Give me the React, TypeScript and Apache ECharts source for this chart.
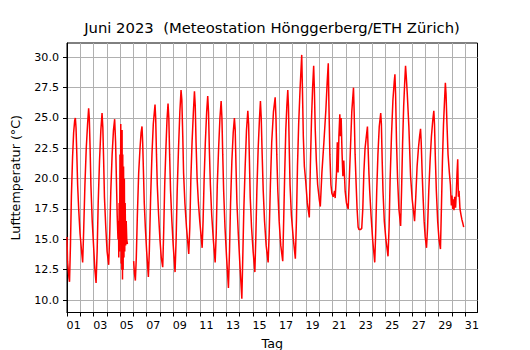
import React, { useEffect, useRef } from "react";
import * as echarts from "echarts";

const TITLE = "Juni 2023  (Meteostation Hönggerberg/ETH Zürich)";
const X_NAME = "Tag";
const Y_NAME = "Lufttemperatur (°C)";

// y tick values (°C)
const yTicks = [10, 12.5, 15, 17.5, 20, 22.5, 25, 27.5, 30];
// day boundaries (days since 1 June 00:00)
const dayTicks = [0, 1, 2, 3, 4, 5, 6, 7, 8, 9, 10, 11, 12, 13, 14, 15, 16, 17, 18, 19, 20, 21, 22, 23, 24, 25, 26, 27, 28, 29, 30];
// label positions (noon of odd days) and their texts
const dayLabelPos = [0.5, 2.5, 4.5, 6.5, 8.5, 10.5, 12.5, 14.5, 16.5, 18.5, 20.5, 22.5, 24.5, 26.5, 28.5, 30.5];
const dayLabelText = ["01", "03", "05", "07", "09", "11", "13", "15", "17", "19", "21", "23", "25", "27", "29", "31"];

// [days since 1 June 00:00, temperature °C]
const days01to05: [number, number | null][] = [
  [0, 15.2], [0.04, 13.2], [0.1, 12.4], [0.15, 11.8], [0.19, 11.5], [0.26, 14.5], [0.33, 18.5], [0.42, 21.8],
  [0.5, 23.8], [0.58, 24.8], [0.63, 25.0], [0.68, 24.2], [0.74, 22.0], [0.8, 19.5], [0.88, 17.5], [0.98, 15.5],
  [1.1, 14.0], [1.18, 13.1], [1.25, 15.5], [1.35, 19.5], [1.45, 22.5], [1.55, 24.5], [1.63, 25.8], [1.68, 25.0],
  [1.74, 22.5], [1.8, 19.5], [1.9, 16.5], [2.0, 14.5], [2.1, 12.5], [2.19, 11.4], [2.27, 14.0], [2.35, 18.0],
  [2.45, 21.5], [2.55, 24.0], [2.64, 25.4], [2.7, 24.2], [2.76, 21.5], [2.82, 18.5], [2.92, 16.0], [3.02, 14.0],
  [3.14, 12.9], [3.22, 15.5], [3.3, 19.0], [3.4, 22.0], [3.5, 24.0], [3.59, 24.9], [3.66, 23.0], [3.72, 20.0],
  [3.78, 17.0], [3.84, 15.0], [3.88, 16.5], [3.9, 13.5], [3.93, 18.0], [3.96, 14.0], [3.99, 22.0], [4.02, 15.0],
  [4.05, 24.5], [4.08, 13.0], [4.1, 23.5], [4.13, 12.5], [4.15, 24.0], [4.18, 11.7], [4.2, 22.0], [4.23, 12.5],
  [4.26, 21.0], [4.29, 13.5], [4.32, 20.0], [4.35, 14.0], [4.38, 18.0], [4.42, 14.5], [4.46, 16.5], [4.5, 15.0],
  [4.55, 14.6], [4.8, null], [5.02, 13.2], [5.08, 12.2], [5.15, 11.6], [5.22, 13.5], [5.3, 17.0], [5.4, 20.5],
  [5.5, 22.5], [5.58, 23.8], [5.65, 24.3], [5.7, 23.0], [5.76, 20.5], [5.82, 18.0], [5.9, 16.0], [6.0, 14.0],
];

const days07to12: [number, number | null][] = [
  [6.13, 11.9], [6.2, 14.0], [6.3, 18.5], [6.4, 22.0], [6.5, 24.5], [6.63, 26.1], [6.68, 25.0], [6.74, 22.0],
  [6.8, 19.5], [6.9, 17.0], [7.0, 15.0], [7.1, 13.5], [7.21, 12.7], [7.28, 15.5], [7.36, 19.5], [7.45, 22.5],
  [7.53, 24.8], [7.61, 26.2], [7.67, 25.0], [7.73, 22.0], [7.8, 19.0], [7.9, 16.5], [8.0, 14.5], [8.14, 12.3],
  [8.22, 15.0], [8.3, 19.0], [8.4, 22.5], [8.5, 25.5], [8.59, 27.3], [8.65, 26.5], [8.72, 23.5], [8.78, 20.5],
  [8.88, 18.0], [9.0, 16.0], [9.17, 13.8], [9.25, 16.0], [9.33, 20.0], [9.42, 23.0], [9.52, 25.5], [9.6, 27.2],
  [9.66, 26.0], [9.72, 23.0], [9.8, 20.0], [9.9, 18.0], [10.0, 16.5], [10.18, 14.3], [10.25, 16.5], [10.33, 20.0],
  [10.42, 23.0], [10.52, 25.5], [10.6, 26.8], [10.66, 25.5], [10.72, 22.5], [10.8, 19.5], [10.9, 17.0], [11.02, 15.0],
  [11.16, 13.1], [11.24, 15.5], [11.32, 19.5], [11.42, 22.5], [11.52, 25.0], [11.61, 26.4], [11.67, 25.0], [11.73, 22.0],
  [11.8, 19.0], [11.9, 16.0], [12.02, 13.5],
];

const days13to18: [number, number | null][] = [
  [12.16, 11.0], [12.24, 14.0], [12.32, 18.0], [12.42, 21.5], [12.52, 23.8], [12.61, 25.0], [12.67, 24.0], [12.73, 21.0],
  [12.8, 18.0], [12.9, 15.5], [13.02, 13.0], [13.17, 10.1], [13.24, 13.5], [13.32, 17.5], [13.42, 21.0], [13.52, 24.0],
  [13.62, 25.6], [13.68, 24.5], [13.74, 21.5], [13.8, 18.5], [13.9, 16.0], [14.02, 14.0], [14.15, 12.3], [14.22, 15.0],
  [14.3, 19.0], [14.4, 22.5], [14.5, 25.0], [14.57, 26.4], [14.63, 25.0], [14.7, 22.0], [14.78, 19.0], [14.88, 16.5],
  [15.0, 14.5], [15.15, 13.1], [15.23, 15.5], [15.32, 19.5], [15.42, 23.0], [15.55, 25.5], [15.68, 26.7], [15.74, 25.0],
  [15.8, 22.0], [15.88, 19.0], [15.98, 16.5], [16.1, 14.5], [16.25, 13.2], [16.32, 16.5], [16.4, 20.5], [16.48, 24.0],
  [16.56, 26.0], [16.63, 27.3], [16.68, 26.0], [16.74, 22.5], [16.8, 19.5], [16.9, 17.0], [17.05, 15.0], [17.2, 13.4],
  [17.28, 16.5], [17.36, 21.0], [17.45, 24.5], [17.56, 27.5], [17.68, 30.2], [17.74, 27.0], [17.8, 23.5], [17.88, 21.0],
  [17.98, 19.8], [18.1, 18.0], [18.25, 16.8], [18.33, 21.0], [18.42, 25.0], [18.5, 27.5], [18.58, 29.3], [18.63, 27.5],
  [18.7, 24.0], [18.78, 21.5], [18.88, 19.5], [19.0, 18.3],
];

const days20to25: [number, number | null][] = [
  [19.08, 17.7], [19.2, 20.5], [19.35, 23.0], [19.5, 25.7], [19.6, 28.0], [19.68, 29.5], [19.73, 26.0], [19.8, 22.0],
  [19.88, 19.5], [19.95, 18.8], [20.05, 18.5], [20.15, 19.0], [20.2, 18.4], [20.3, 20.5], [20.36, 23.0], [20.42, 20.5],
  [20.48, 23.5], [20.55, 25.3], [20.6, 23.5], [20.65, 25.0], [20.72, 22.0], [20.78, 20.2], [20.85, 21.5], [20.95, 19.0],
  [21.05, 18.0], [21.18, 17.5], [21.25, 19.5], [21.35, 22.5], [21.45, 25.5], [21.58, 27.5], [21.63, 25.5], [21.7, 22.0],
  [21.78, 19.5], [21.85, 17.5], [21.93, 16.0], [22.0, 15.8], [22.1, 15.8], [22.2, 15.9], [22.28, 17.5], [22.36, 20.5],
  [22.45, 22.5], [22.55, 23.5], [22.63, 24.3], [22.68, 22.5], [22.74, 20.5], [22.8, 19.0], [22.9, 17.0], [23.02, 15.0],
  [23.18, 13.1], [23.25, 15.5], [23.33, 19.0], [23.42, 22.0], [23.52, 24.3], [23.63, 25.4], [23.68, 24.5], [23.74, 21.5],
  [23.8, 19.0], [23.9, 16.5], [24.02, 15.0], [24.18, 13.6], [24.26, 16.0], [24.34, 20.0], [24.44, 23.5], [24.55, 26.5],
  [24.65, 28.0], [24.7, 28.6], [24.75, 27.0], [24.82, 23.0], [24.9, 20.0], [25.0, 17.5],
];

const days26to30: [number, number | null][] = [
  [25.13, 16.1], [25.2, 19.0], [25.28, 23.0], [25.36, 26.0], [25.44, 28.0], [25.5, 29.3], [25.55, 28.5], [25.63, 27.0],
  [25.75, 24.3], [25.88, 20.2], [26.0, 18.3], [26.18, 16.5], [26.27, 18.5], [26.37, 21.0], [26.47, 22.5], [26.56, 23.5],
  [26.63, 24.1], [26.68, 23.0], [26.75, 20.5], [26.82, 18.5], [26.9, 16.5], [26.98, 15.2], [27.08, 14.3], [27.16, 16.0],
  [27.25, 19.0], [27.35, 21.5], [27.45, 23.5], [27.55, 24.8], [27.63, 25.6], [27.68, 24.5], [27.75, 21.5], [27.82, 19.0],
  [27.92, 16.5], [28.02, 15.0], [28.13, 14.2], [28.2, 17.5], [28.28, 21.5], [28.36, 24.5], [28.44, 26.5], [28.5, 27.9],
  [28.55, 27.0], [28.62, 24.5], [28.7, 22.0], [28.8, 20.5], [28.88, 19.5], [28.95, 17.8], [29.0, 18.6], [29.05, 17.5],
  [29.1, 18.3], [29.15, 17.4], [29.2, 18.5], [29.27, 17.6], [29.33, 19.0], [29.38, 20.5], [29.43, 21.6], [29.48, 18.5],
  [29.53, 19.0], [29.6, 17.5], [29.68, 17.0], [29.75, 16.6], [29.82, 16.3], [29.88, 16.0],
];

const FONT = "DejaVu Sans";

export default function App() {
  const ref = useRef<HTMLDivElement>(null);
  useEffect(() => {
    if (!ref.current) return;
    const chart = echarts.init(ref.current, undefined, { renderer: "svg" });
    const data = [...days01to05, ...days07to12, ...days13to18, ...days20to25, ...days26to30];
    chart.setOption({
      animation: false,
      backgroundColor: "#ffffff",
      textStyle: { fontFamily: FONT },
      title: {
        text: TITLE,
        left: 272,
        top: 20,
        textAlign: "center",
        padding: 0,
        textStyle: { fontFamily: FONT, fontSize: 14.8, fontWeight: "normal", color: "#000" },
      },
      grid: {
        left: 67,
        right: 52.5,
        top: 43,
        bottom: 37.5,
        show: true,
        borderColor: "#000",
        borderWidth: 1,
        backgroundColor: "transparent",
        containLabel: false,
        outerBoundsMode: "none",
      },
      xAxis: {
        type: "value",
        min: 0,
        max: 30.92,
        name: X_NAME,
        nameLocation: "middle",
        nameGap: 24,
        nameTextStyle: { fontFamily: FONT, fontSize: 12.7, color: "#000" },
        axisLine: { show: true, onZero: false, lineStyle: { color: "#000", width: 1 } },
        axisTick: { show: true, inside: false, length: 4, customValues: dayTicks, lineStyle: { color: "#000", width: 1 } },
        axisLabel: {
          show: true,
          margin: 7,
          customValues: dayLabelPos,
          formatter: (v: number) => {
            const i = dayLabelPos.indexOf(v);
            return i >= 0 ? dayLabelText[i] : "";
          },
          fontFamily: FONT,
          fontSize: 11.1,
          color: "#000",
        },
        splitLine: { show: true, lineStyle: { color: "#b0b0b0", width: 1 } },
      },
      yAxis: {
        type: "value",
        min: 8.97,
        max: 31.18,
        name: Y_NAME,
        nameLocation: "middle",
        nameGap: 45,
        nameRotate: 90,
        nameTextStyle: { fontFamily: FONT, fontSize: 12.7, color: "#000" },
        axisLine: { show: true, onZero: false, lineStyle: { color: "#000", width: 1 } },
        axisTick: { show: true, inside: false, length: 4, customValues: yTicks, lineStyle: { color: "#000", width: 1 } },
        axisLabel: {
          show: true,
          margin: 8,
          customValues: yTicks,
          formatter: (v: number) => v.toFixed(1),
          fontFamily: FONT,
          fontSize: 11.1,
          color: "#000",
        },
        splitLine: { show: true, lineStyle: { color: "#b0b0b0", width: 1 } },
      },
      series: [
        {
          type: "line",
          data,
          showSymbol: false,
          symbol: "none",
          connectNulls: false,
          lineStyle: { color: "#ff0000", width: 1.5 },
          itemStyle: { color: "#ff0000" },
          silent: true,
          z: 3,
        },
      ],
    });
    return () => chart.dispose();
  }, []);
  return (
    <div
      ref={ref}
      style={{ position: "absolute", left: 0, top: 0, width: 530, height: 350, background: "#fff" }}
    />
  );
}
